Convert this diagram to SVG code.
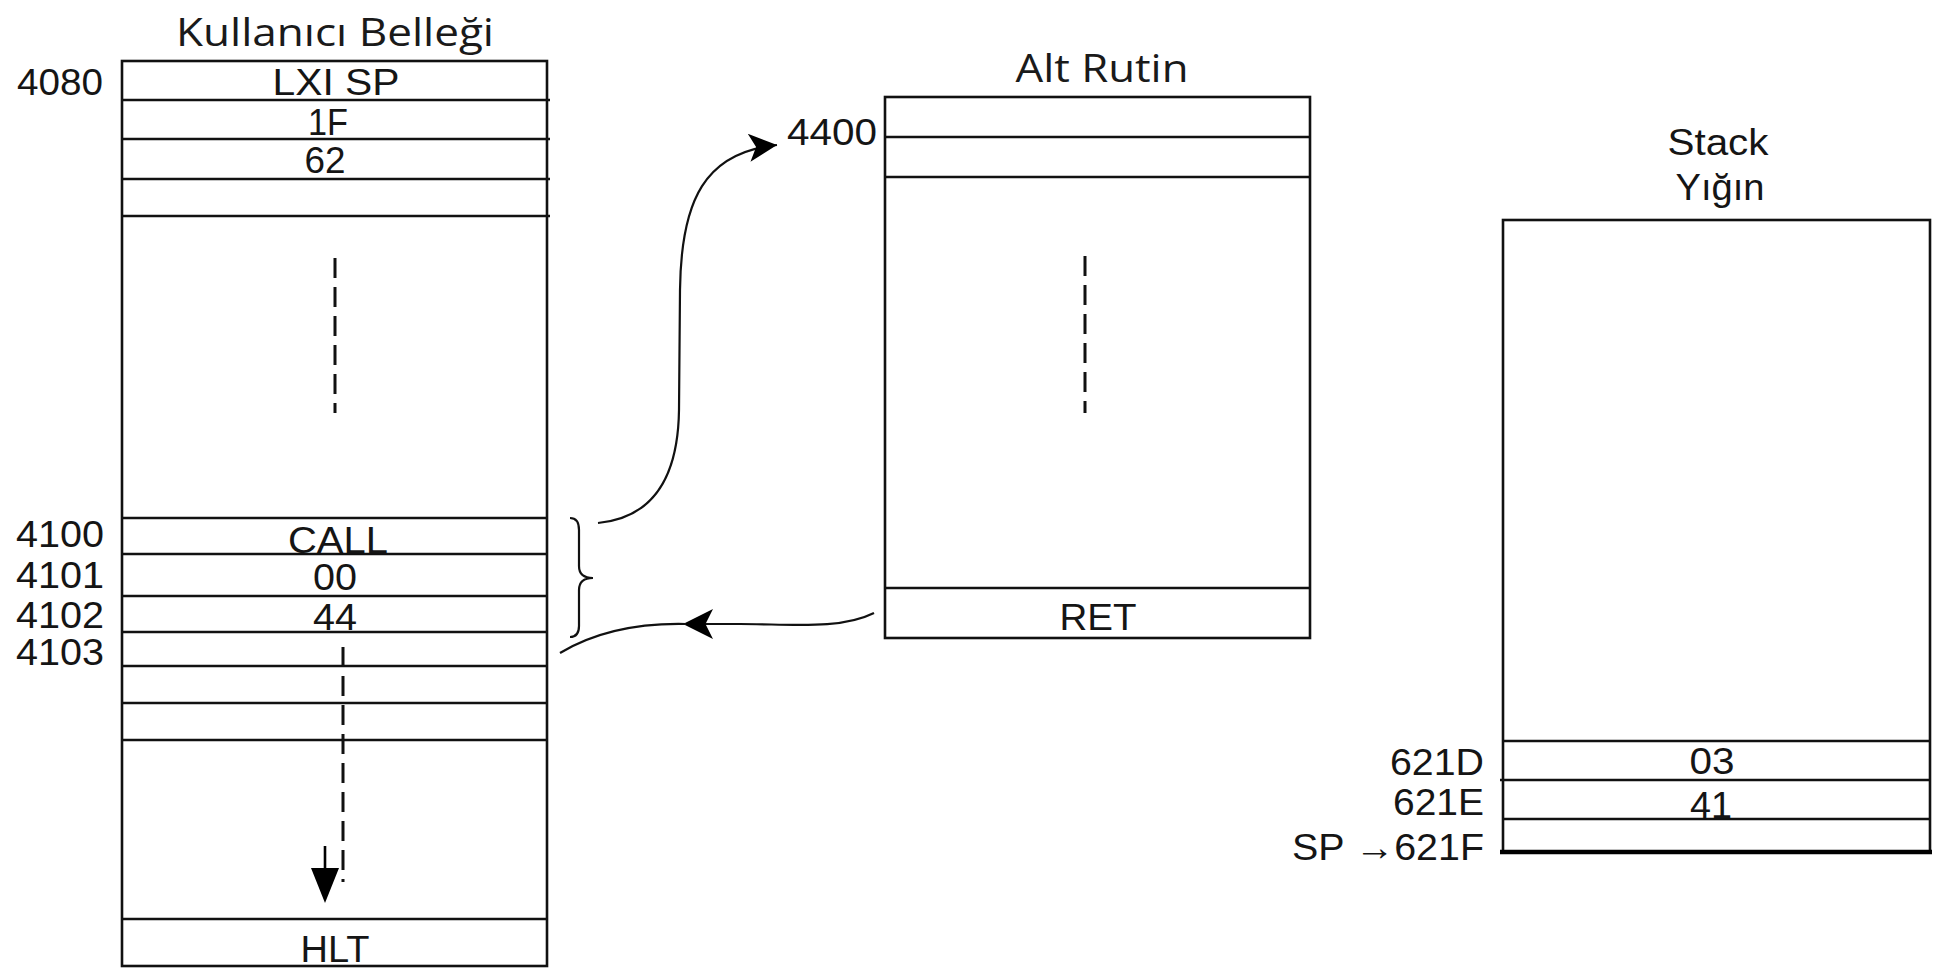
<svg xmlns="http://www.w3.org/2000/svg" width="1943" height="968" viewBox="0 0 1943 968">
<style>
.box{fill:none;stroke:#111;stroke-width:2.6}
.ln{stroke:#111;stroke-width:2.6}
.dash{stroke:#111;stroke-width:3;stroke-dasharray:20 9;fill:none}
.t{font-family:"Liberation Sans",Arial,sans-serif;font-size:37px;fill:#151515}
.m{text-anchor:middle}
.e{text-anchor:end}
.ttl{font-family:"Open Sans","Noto Sans",sans-serif;font-size:39px;fill:#1a1a1a;text-anchor:middle}
.con{fill:none;stroke:#111;stroke-width:2.2}
</style>
<defs>
<marker id="ah" viewBox="0 0 10 10" refX="10" refY="5" markerWidth="34" markerHeight="28" markerUnits="userSpaceOnUse" orient="auto">
<path d="M0,0 L10,5 L0,10 L2.5,5 z" fill="#000"/>
</marker>
<marker id="ah2" viewBox="0 0 10 10" refX="10" refY="5" markerWidth="32" markerHeight="30" markerUnits="userSpaceOnUse" orient="auto">
<path d="M0,0 L10,5 L0,10 L2.5,5 z" fill="#000"/>
</marker>
</defs>

<g id="user-memory">
<text class="ttl" x="335" y="46" textLength="318" lengthAdjust="spacingAndGlyphs">Kullanıcı Belleği</text>
<rect class="box" x="122" y="61" width="425" height="905"/>
<line class="ln" x1="122" y1="100" x2="550" y2="100"/>
<line class="ln" x1="122" y1="139" x2="550" y2="139"/>
<line class="ln" x1="122" y1="179" x2="550" y2="179"/>
<line class="ln" x1="122" y1="216" x2="550" y2="216"/>
<line class="ln" x1="122" y1="518" x2="547" y2="518"/>
<line class="ln" x1="122" y1="554" x2="547" y2="554"/>
<line class="ln" x1="122" y1="596" x2="547" y2="596"/>
<line class="ln" x1="122" y1="632" x2="547" y2="632"/>
<line class="ln" x1="122" y1="666" x2="547" y2="666"/>
<line class="ln" x1="122" y1="703" x2="547" y2="703"/>
<line class="ln" x1="122" y1="740" x2="547" y2="740"/>
<line class="ln" x1="122" y1="919" x2="547" y2="919"/>
<text class="t" x="17" y="95" textLength="86" lengthAdjust="spacingAndGlyphs">4080</text>
<text class="t" x="16" y="547" textLength="88" lengthAdjust="spacingAndGlyphs">4100</text>
<text class="t" x="16" y="588" textLength="88" lengthAdjust="spacingAndGlyphs">4101</text>
<text class="t" x="16" y="628" textLength="88" lengthAdjust="spacingAndGlyphs">4102</text>
<text class="t" x="16" y="665" textLength="88" lengthAdjust="spacingAndGlyphs">4103</text>
<text class="t m" x="336" y="95" textLength="127" lengthAdjust="spacingAndGlyphs">LXI SP</text>
<text class="t m" x="328" y="135" textLength="40" lengthAdjust="spacingAndGlyphs">1F</text>
<text class="t m" x="325" y="173" textLength="41" lengthAdjust="spacingAndGlyphs">62</text>
<text class="t m" x="338" y="553" textLength="100" lengthAdjust="spacingAndGlyphs">CALL</text>
<text class="t m" x="335" y="590" textLength="44" lengthAdjust="spacingAndGlyphs">00</text>
<text class="t m" x="335" y="630" textLength="44" lengthAdjust="spacingAndGlyphs">44</text>
<text class="t m" x="335" y="962" textLength="69" lengthAdjust="spacingAndGlyphs">HLT</text>
<line class="dash" x1="335" y1="258" x2="335" y2="413"/>
</g>

<g id="subroutine">
<text class="ttl" x="1102" y="82" textLength="173" lengthAdjust="spacingAndGlyphs">Alt Rutin</text>
<rect class="box" x="885" y="97" width="425" height="541"/>
<line class="ln" x1="885" y1="137" x2="1310" y2="137"/>
<line class="ln" x1="885" y1="177" x2="1310" y2="177"/>
<line class="ln" x1="885" y1="588" x2="1310" y2="588"/>
<text class="t" x="787" y="145" textLength="90" lengthAdjust="spacingAndGlyphs">4400</text>
<text class="t m" x="1098" y="630" textLength="77" lengthAdjust="spacingAndGlyphs">RET</text>
<line class="dash" x1="1085" y1="256" x2="1085" y2="413"/>
</g>

<g id="stack">
<text class="t m" x="1718" y="155" font-size="33" textLength="101" lengthAdjust="spacingAndGlyphs">Stack</text>
<text class="t m" x="1720" y="200" font-size="33" textLength="89" lengthAdjust="spacingAndGlyphs">Yığın</text>
<rect class="box" x="1503" y="220" width="427" height="632"/>
<line class="ln" x1="1503" y1="741" x2="1930" y2="741"/>
<line class="ln" x1="1500" y1="780" x2="1930" y2="780"/>
<line class="ln" x1="1503" y1="819" x2="1930" y2="819"/>
<line x1="1500" y1="852" x2="1932" y2="852" stroke="#000" stroke-width="4.5"/>
<text class="t m" x="1712" y="774" textLength="45" lengthAdjust="spacingAndGlyphs">03</text>
<text class="t m" x="1711" y="818" textLength="42" lengthAdjust="spacingAndGlyphs">41</text>
<text class="t e" x="1484" y="775" textLength="94" lengthAdjust="spacingAndGlyphs">621D</text>
<text class="t e" x="1484" y="815" textLength="91" lengthAdjust="spacingAndGlyphs">621E</text>
<text class="t e" x="1484" y="860" textLength="192" lengthAdjust="spacingAndGlyphs">SP →621F</text>
</g>

<g id="connectors">
<path class="con" d="M598,523 C650,518 678,482 679,410 L680,290 C681,200 705,152 777,145" marker-end="url(#ah)"/>
<path class="con" d="M874,613 C840,630 790,624 740,624 L683,624" marker-end="url(#ah2)"/>
<path class="con" d="M686,624 C640,623 595,632 560,653"/>
<path class="con" stroke-width="1.8" d="M570,518 Q579,518 579,530 L579,566 Q579,578 593,578 Q579,578 579,590 L579,626 Q579,637 570,637"/>
<line class="dash" x1="343" y1="647" x2="343" y2="882"/>
<line x1="325" y1="846" x2="325" y2="880" stroke="#000" stroke-width="2.6"/>
<path d="M311,868 L339,868 L325,903 z" fill="#000"/>
</g>
</svg>
